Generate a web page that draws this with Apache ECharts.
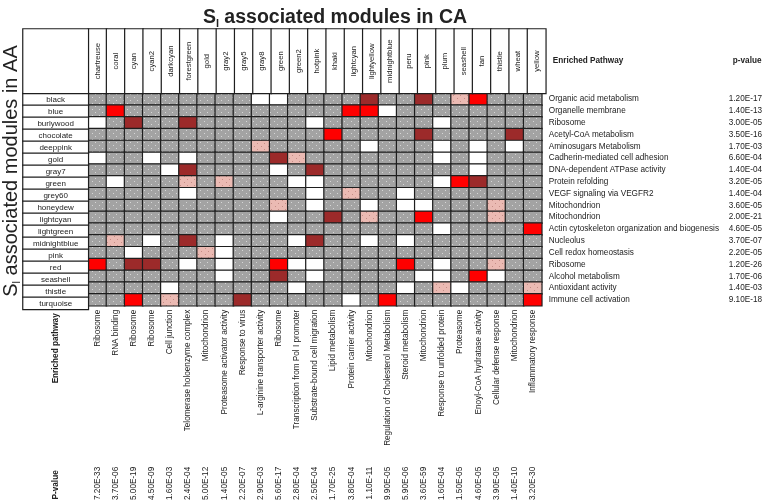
<!DOCTYPE html>
<html><head><meta charset="utf-8">
<script src="https://cdn.jsdelivr.net/npm/echarts@6/dist/echarts.min.js"></script>
<style>html,body{margin:0;padding:0;background:#fff}#c{width:765px;height:503px}</style>
</head><body><div id="c"></div>
<script>
const colModules = ['chartreuse','coral','cyan','cyan2','darkcyan','forestgreen','gold','gray2','gray5','gray8','green','green2','hotpink','khaki','lightcyan','lightyellow','midnightblue','peru','pink','plum','seashell','tan','thistle','wheat','yellow'];
const colPathways = ['Ribosome','RNA binding','Ribosome','Ribosome','Cell junction','Telomerase holoenzyme complex','Mitochondrion','Proteasome activator activity','Response to virus','L-arginine transporter activity','Ribosome','Transcription from Pol I promoter','Substrate-bound cell migration','Lipid metabolism','Protein carrier activity','Mitochondrion','Regulation of Cholesterol Metabolism','Steroid metabolism','Mitochondrion','Response to unfolded protein','Proteasome','Enoyl-CoA hydratase activity','Cellular defense response','Mitochondrion','Inflammatory response'];
const colPvalues = ['7.20E-33','3.70E-06','5.00E-19','4.50E-09','1.60E-03','2.40E-04','5.00E-12','1.40E-05','2.20E-07','2.90E-03','5.60E-17','2.80E-04','2.50E-04','1.70E-25','3.80E-04','1.10E-11','9.90E-05','5.90E-06','3.60E-59','1.60E-04','1.50E-05','4.60E-05','3.90E-05','1.40E-10','3.20E-30'];
const rowModules = ['black','blue','burlywood','chocolate','deeppink','gold','gray7','green','grey60','honeydew','lightcyan','lightgreen','midnightblue','pink','red','seashell','thistle','turquoise'];
const rowPathways = ['Organic acid metabolism','Organelle membrane','Ribosome','Acetyl-CoA metabolism','Aminosugars Metabolism','Cadherin-mediated cell adhesion','DNA-dependent ATPase activity','Protein refolding','VEGF signaling via VEGFR2','Mitochondrion','Mitochondrion','Actin cytoskeleton organization and biogenesis','Nucleolus','Cell redox homeostasis','Ribosome','Alcohol metabolism','Antioxidant activity','Immune cell activation'];
const rowPvalues = ['1.20E-17','1.40E-13','3.00E-05','3.50E-16','1.70E-03','6.60E-04','1.40E-04','3.20E-05','1.40E-04','3.60E-05','2.00E-21','4.60E-05','3.70E-07','2.20E-05','1.20E-26','1.70E-06','1.40E-03','9.10E-18'];
// cell state: 0 = none (grey), 1 = white, 2 = light pink, 3 = dark red, 4 = red
const cells = [
  [0,0,0,0,0,0,0,0,0,1,1,0,0,0,0,3,0,0,3,0,2,4,0,0,0],
  [0,4,0,0,0,0,0,0,0,0,0,0,0,0,4,4,1,0,0,0,0,0,0,0,0],
  [1,0,3,0,0,3,0,0,0,0,0,0,1,0,0,0,0,0,0,1,0,0,0,0,0],
  [0,0,0,0,0,0,0,0,0,0,0,0,0,4,0,0,0,0,3,0,0,0,0,3,0],
  [0,0,0,0,0,0,0,0,0,2,0,0,0,0,0,1,0,0,0,1,0,1,0,1,0],
  [1,0,0,1,0,1,0,0,0,0,3,2,0,0,0,0,0,0,0,1,0,1,0,0,0],
  [0,0,0,0,1,3,0,0,0,0,1,0,3,0,0,0,0,0,0,0,0,1,0,0,0],
  [0,1,0,0,0,2,0,2,0,0,0,1,1,0,0,0,0,0,0,1,4,3,0,0,0],
  [0,0,0,0,0,1,0,0,0,0,0,0,1,0,2,0,0,1,0,0,0,0,0,0,0],
  [0,0,0,0,0,0,0,0,0,0,2,0,1,0,0,1,0,1,1,0,0,0,2,0,0],
  [0,0,0,0,0,0,0,0,0,0,1,0,0,3,0,2,0,0,4,0,0,0,2,0,0],
  [0,0,0,0,0,0,0,0,0,0,0,0,0,0,0,0,0,0,0,1,0,0,0,0,4],
  [0,2,0,1,0,3,0,1,0,0,0,1,3,0,0,1,0,1,0,0,0,0,0,0,0],
  [0,0,1,0,0,0,2,1,0,0,0,0,0,0,0,0,0,0,0,0,0,0,0,0,0],
  [4,0,3,3,0,1,0,1,0,0,4,1,1,0,0,0,0,4,0,1,0,0,2,0,0],
  [0,0,0,0,0,0,0,1,0,0,3,0,1,0,0,0,0,0,1,1,0,4,1,0,0],
  [0,0,0,0,1,0,0,0,0,0,0,1,0,0,0,0,0,1,0,2,1,0,0,0,2],
  [0,0,4,0,2,0,0,0,3,0,0,0,0,0,1,0,4,0,0,0,0,0,0,0,4]
];

const FONT = "'Liberation Sans', Arial, Helvetica, sans-serif";
function makePattern(base, dot, w, h, dots) {
  const c = document.createElement('canvas'); c.width = w; c.height = h;
  const g = c.getContext('2d'); g.fillStyle = base; g.fillRect(0, 0, w, h);
  g.fillStyle = dot; dots.forEach(([x, y]) => g.fillRect(x, y, 1, 1));
  return { image: c, repeat: 'repeat' };
}
const fills = [
  makePattern('#a3a3a3', '#d6d6d6', 7, 6, [[1, 1], [4, 4]]),
  '#ffffff',
  makePattern('#ebbab3', '#c58d86', 7, 6, [[2, 2], [5, 5]]),
  '#9c2a2a',
  '#ff0000'
];
const border = { borderColor: '#1e1e1e', borderWidth: 1.2 };

const bodyData = [];
cells.forEach((row, r) => row.forEach((v, c) => {
  bodyData.push({ value: [c, r, v], itemStyle: Object.assign({ color: fills[v] }, border) });
}));
const headerData = colModules.map((m, c) => ({ value: [c, 0, 0], itemStyle: Object.assign({ color: '#fff' }, border) }));
const labelData = rowModules.map((m, r) => ({ value: [0, r, 0], itemStyle: Object.assign({ color: '#fff' }, border) }));

const G = { left: 88.3, right: 219.2, top: 93.3, height: 216 };
const hiddenAxis = { axisLine: { show: false }, axisTick: { show: false }, splitLine: { show: false } };
const small = { fontFamily: FONT, fontSize: 8.2, color: '#222' };

const chart = echarts.init(document.getElementById('c'), null, { renderer: 'canvas' });
chart.setOption({
  animation: false,
  backgroundColor: '#fff',
  title: {
    text: '{a|S}{s|l}{a| associated modules in CA}',
    left: 330, top: 1, textAlign: 'center',
    textStyle: { rich: {
      a: { fontFamily: FONT, fontSize: 19.5, color: '#222' },
      s: { fontFamily: FONT, fontSize: 11, color: '#222', padding: [12, 0, 0, 0] }
    } }
  },
  graphic: [{
    type: 'text', x: 11, y: 171, rotation: Math.PI / 2,
    style: {
      text: '{a|S}{s|l}{a| associated modules in AA}', align: 'center', verticalAlign: 'middle',
      rich: {
        a: { fontFamily: FONT, fontSize: 20, fill: '#222' },
        s: { fontFamily: FONT, fontSize: 11, fill: '#222', padding: [12, 0, 0, 0] }
      }
    }
  }],
  grid: [
    { left: G.left, right: G.right, top: G.top, height: G.height },
    { left: G.left, right: G.right, top: 29, height: 64.3 },
    { left: 23, width: 65.3, top: G.top, height: G.height },
    { left: 23, width: 65.3, top: 29, height: 64.3 }
  ],
  xAxis: [
    Object.assign({ type: 'category', gridIndex: 0, data: colModules, position: 'bottom',
      axisLabel: Object.assign({ interval: 0, rotate: 90, margin: 4, formatter: (v, i) => colPathways[i] }, small) }, hiddenAxis),
    Object.assign({ type: 'category', gridIndex: 0, data: colModules, position: 'bottom', offset: 157,
      axisLabel: Object.assign({ interval: 0, rotate: 90, margin: 4, formatter: (v, i) => colPvalues[i] }, small) }, hiddenAxis),
    Object.assign({ type: 'category', gridIndex: 1, data: colModules, axisLabel: { show: false } }, hiddenAxis),
    Object.assign({ type: 'category', gridIndex: 2, data: ['Enriched pathway'], position: 'bottom',
      axisLabel: Object.assign({ interval: 0, rotate: 90, margin: 4 }, small, { fontWeight: 'bold' }) }, hiddenAxis),
    Object.assign({ type: 'category', gridIndex: 2, data: ['P-value'], position: 'bottom', offset: 157,
      axisLabel: Object.assign({ interval: 0, rotate: 90, margin: 4 }, small, { fontWeight: 'bold' }) }, hiddenAxis),
    Object.assign({ type: 'category', gridIndex: 3, data: [''], axisLabel: { show: false } }, hiddenAxis)
  ],
  yAxis: [
    Object.assign({ type: 'category', gridIndex: 0, data: rowModules, inverse: true, position: 'right',
      axisLabel: Object.assign({ interval: 0, margin: 7, formatter: (v, i) => rowPathways[i] }, small) }, hiddenAxis),
    Object.assign({ type: 'category', gridIndex: 0, data: rowModules, inverse: true, position: 'right', offset: 180,
      axisLabel: Object.assign({ interval: 0, margin: 7, formatter: (v, i) => rowPvalues[i] }, small) }, hiddenAxis),
    Object.assign({ type: 'category', gridIndex: 1, data: ['Enriched Pathway'], position: 'right',
      axisLabel: Object.assign({ margin: 7 }, small, { fontWeight: 'bold' }) }, hiddenAxis),
    Object.assign({ type: 'category', gridIndex: 1, data: ['p-value'], position: 'right', offset: 180,
      axisLabel: Object.assign({ margin: 7 }, small, { fontWeight: 'bold' }) }, hiddenAxis),
    Object.assign({ type: 'category', gridIndex: 2, data: rowModules, inverse: true, axisLabel: { show: false } }, hiddenAxis),
    Object.assign({ type: 'category', gridIndex: 3, data: [''], axisLabel: { show: false } }, hiddenAxis)
  ],
  series: [
    { type: 'heatmap', xAxisIndex: 0, yAxisIndex: 0, data: bodyData, emphasis: { disabled: true } },
    { type: 'heatmap', xAxisIndex: 2, yAxisIndex: 2, data: headerData, emphasis: { disabled: true },
      label: Object.assign({ show: true, rotate: 90, formatter: p => colModules[p.value[0]] }, small, { fontSize: 7.7 }) },
    { type: 'heatmap', xAxisIndex: 3, yAxisIndex: 4, data: labelData, emphasis: { disabled: true },
      label: Object.assign({ show: true, formatter: p => rowModules[p.value[1]] }, small, { fontSize: 8 }) },
    { type: 'heatmap', xAxisIndex: 5, yAxisIndex: 5, data: [{ value: [0, 0, 0], itemStyle: Object.assign({ color: '#fff' }, border) }], emphasis: { disabled: true } }
  ]
});
</script></body></html>
